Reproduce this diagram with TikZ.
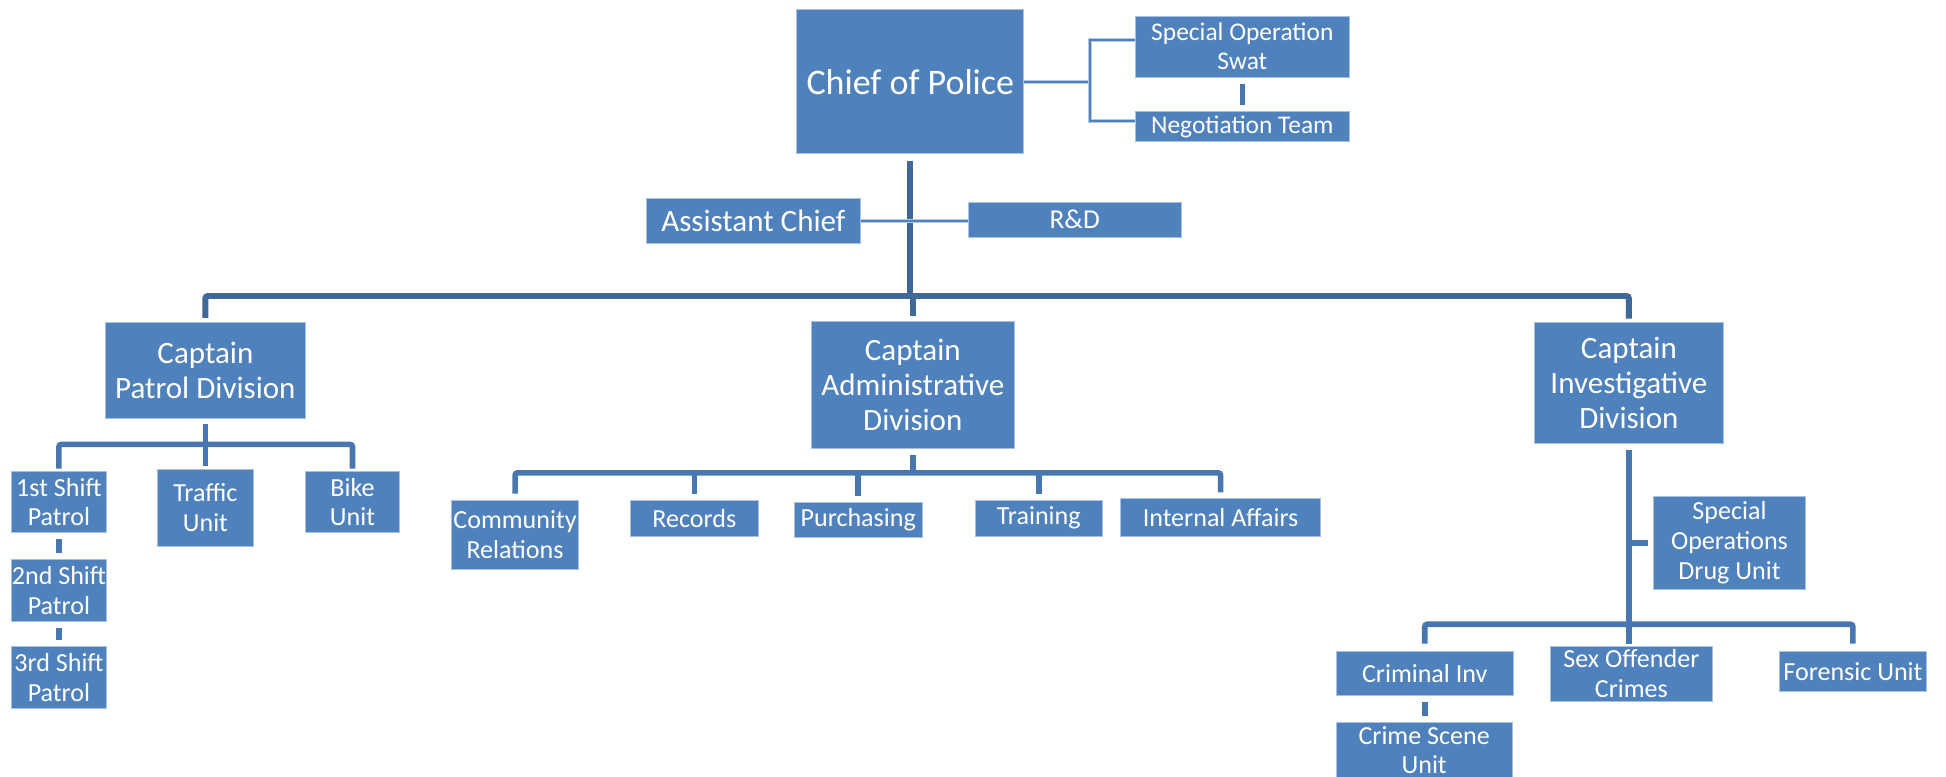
\documentclass[tikz,border=0pt]{standalone}
\usepackage{fontspec}
\setmainfont{Carlito}
\definecolor{boxblue}{HTML}{4F81BD}
\definecolor{boxedge}{HTML}{A9C1E0}
\definecolor{darkblue}{HTML}{3F6998}
\definecolor{subblue}{HTML}{4776B0}
\definecolor{haloblue}{HTML}{B4CAE4}
\begin{document}
\begin{tikzpicture}[x=1pt,y=-1pt,
  box/.style={fill=boxblue, draw=boxedge, line width=0.7pt, text=white, align=center, inner sep=0pt},
  fsA/.style={font=\fontsize{21}{24}\selectfont},
  fsB/.style={font=\fontsize{25}{28}\selectfont},
  fsC/.style={font=\fontsize{29}{33}\selectfont},
  fsD/.style={font=\fontsize{20.5}{23.5}\selectfont},
  fsE/.style={font=\fontsize{22}{25}\selectfont},
  fsF/.style={font=\fontsize{21}{23}\selectfont},
  conn/.style={draw=subblue, line width=4.5pt},
  mainc/.style={draw=darkblue, line width=4.8pt},
  thinc/.style={draw=boxblue, line width=1.6pt, preaction={draw=haloblue, line width=3pt}}
]
\useasboundingbox (0,0) rectangle (1568,626);
\clip (0,0) rectangle (1568,626);

% top level
\node[box, fsC, minimum width=183pt, minimum height=116pt] (chief) at (733.5,66) {Chief of Police};
\node[box, fsD, minimum width=172pt, minimum height=49pt] (swat) at (1001,37.5) {Special Operation\\Swat};
\node[box, fsD, minimum width=172pt, minimum height=24pt] (neg) at (1001,102) {Negotiation Team};
\node[box, fsB, minimum width=172pt, minimum height=36pt] (asst) at (607,178) {Assistant Chief};
\node[box, fsE, minimum width=172pt, minimum height=28pt] (rd) at (866,177) {R\&D};

% captains
\node[box, fsB, minimum width=161pt, minimum height=78pt] (patrol) at (165.5,298.5) {Captain\\Patrol Division};
\node[box, fsB, minimum width=163pt, minimum height=102pt] (admin) at (735.5,310) {Captain\\Administrative\\Division};
\node[box, fsB, minimum width=153pt, minimum height=97pt] (invest) at (1312.5,308.5) {Captain\\Investigative\\Division};

% patrol units
\node[box, fsA, minimum width=77pt, minimum height=49pt] (shift1) at (47.5,404.5) {1st Shift\\Patrol};
\node[box, fsA, minimum width=77pt, minimum height=62pt] (traffic) at (165.5,409) {Traffic\\Unit};
\node[box, fsA, minimum width=76pt, minimum height=49pt] (bike) at (284,404.5) {Bike\\Unit};
\node[box, fsA, minimum width=77pt, minimum height=50pt] (shift2) at (47.5,476) {2nd Shift\\Patrol};
\node[box, fsA, minimum width=77pt, minimum height=50pt] (shift3) at (47.5,546) {3rd Shift\\Patrol};

% admin units
\node[box, fsA, minimum width=102pt, minimum height=56pt] (comm) at (415,431) {Community\\Relations};
\node[box, fsA, minimum width=103pt, minimum height=29pt] (records) at (559.5,417.5) {Records};
\node[box, fsA, minimum width=103pt, minimum height=28pt] (purch) at (691.5,419) {Purchasing};
\node[box, fsA, minimum width=102pt, minimum height=29pt] (training) at (837,417.5) {Training};
\node[box, fsA, minimum width=161pt, minimum height=30pt] (ia) at (983.5,417) {Internal Affairs};

% investigative units
\node[box, fsA, minimum width=123pt, minimum height=75pt] (drug) at (1393.5,437.5) {Special\\Operations\\Drug Unit};
\node[box, fsA, minimum width=143pt, minimum height=35pt] (crim) at (1148,542.5) {Criminal Inv};
\node[box, fsA, minimum width=131pt, minimum height=44pt] (sex) at (1314.5,543) {Sex Offender\\Crimes};
\node[box, fsA, minimum width=118pt, minimum height=32pt] (foren) at (1493,541) {Forensic Unit};
\node[box, fsF, minimum width=142pt, minimum height=44pt] (scene) at (1147.5,604.5) {Crime Scene\\Unit};

% junction coordinates
\coordinate (cj) at (878,64.5);
\coordinate (mbus) at (735.5,238.5);
\coordinate (pbus) at (165.5,358);
\coordinate (abus) at (735.5,381);
\coordinate (ibus) at (1312.5,503);

% top connectors
\draw[mainc] ([yshift=-5pt]chief.south) -- (chief.south |- mbus);
\draw[mainc] (mbus) -- ([yshift=4pt]admin.north);
\draw[mainc, rounded corners=2pt] ([yshift=3pt]patrol.north) |- (mbus) -| ([yshift=3pt]invest.north);
\draw[thinc] (asst.east) -- (asst.east -| rd.west);
\draw[thinc] (chief.east) -- (cj |- chief.east);
\draw[thinc] ([yshift=5pt]swat.west) -| (cj |- chief.east) |- ([yshift=4.5pt]neg.west);
\draw[conn] ([yshift=-5pt]swat.south) -- ([yshift=5pt]neg.north);

% patrol connectors
\draw[conn] ([yshift=-4pt]patrol.south) -- ([yshift=2pt]traffic.north);
\draw[conn, rounded corners=2pt] ([yshift=2pt]shift1.north) |- (pbus) -| ([yshift=2pt]bike.north);
\draw[conn] ([yshift=-5pt]shift1.south) -- ([yshift=5pt]shift2.north);
\draw[conn] ([yshift=-5pt]shift2.south) -- ([yshift=5pt]shift3.north);

% admin connectors
\draw[conn] ([yshift=-5pt]admin.south) -- (abus);
\draw[conn, rounded corners=2pt] ([yshift=5pt]comm.north) |- (abus) -| ([yshift=5pt]ia.north);
\draw[conn] ([yshift=5pt]records.north) -- (records.north |- abus);
\draw[conn] ([yshift=5pt]purch.north) -- (purch.north |- abus);
\draw[conn] ([yshift=5pt]training.north) -- (training.north |- abus);

% investigative connectors
\draw[conn] ([yshift=-5pt]invest.south) -- ([yshift=2pt]invest.south |- sex.north);
\draw[conn] (drug.west -| invest.south) -- ([xshift=-4pt]drug.west);
\draw[conn, rounded corners=2pt] ([yshift=6pt]crim.north) |- (ibus) -| ([yshift=6pt]foren.north);
\draw[conn] ([yshift=-5pt]crim.south) -- ([yshift=5pt]crim.south |- scene.north);
\end{tikzpicture}
\end{document}
